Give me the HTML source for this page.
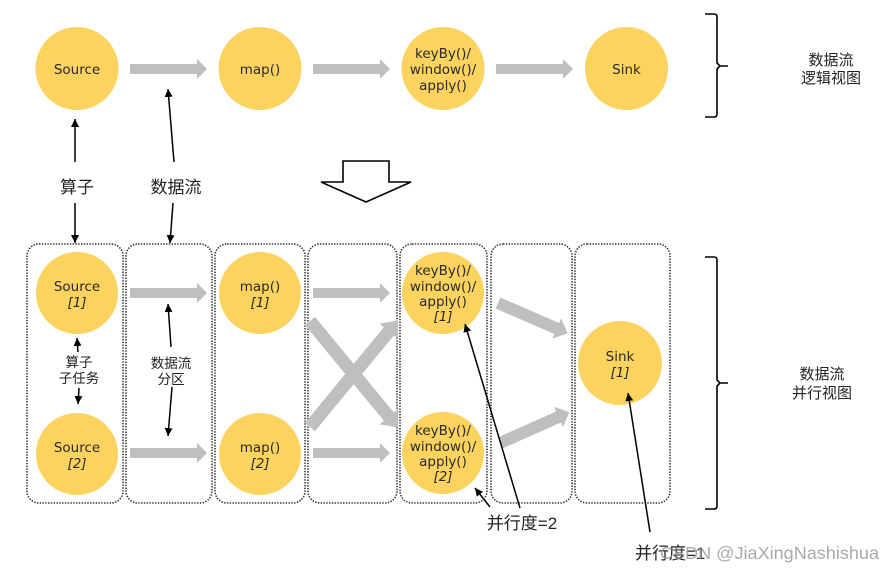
<!DOCTYPE html>
<html><head><meta charset="utf-8"><style>
html,body{margin:0;padding:0;background:#fff;}
svg{display:block;}
.n{font-family:"DejaVu Sans","Liberation Sans",sans-serif;font-size:13.5px;fill:#2a2a2a;text-anchor:middle;}
.i{font-style:italic;}
.c{font-family:"Liberation Sans","Noto Sans CJK SC",sans-serif;fill:#222;text-anchor:middle;}
</style></head><body>
<svg width="895" height="573" viewBox="0 0 895 573" xmlns="http://www.w3.org/2000/svg">
<defs>
<marker id="ah" markerUnits="userSpaceOnUse" markerWidth="10" markerHeight="10" refX="8" refY="4" orient="auto">
<path d="M0,0 L8,4 L0,8 Z" fill="#000"/>
</marker>
<g id="arr"><path d="M0,-5 H67 V-10 L77,0 L67,10 V5 H0 Z" fill="#bfbfbf"/></g>
</defs>

<!-- top row arrows -->
<use href="#arr" x="130" y="69"/>
<use href="#arr" x="313" y="69"/>
<use href="#arr" x="496" y="69"/>

<!-- top circles -->
<g fill="#fcd35f">
<circle cx="77" cy="68.5" r="41.5"/>
<circle cx="260" cy="68.5" r="41.5"/>
<circle cx="443" cy="68.5" r="41.5"/>
<circle cx="626.5" cy="68.5" r="41.5"/>
</g>
<text class="n" x="77" y="74">Source</text>
<text class="n" x="260" y="74">map()</text>
<text class="n" x="443" y="58">keyBy()/</text>
<text class="n" x="443" y="74">window()/</text>
<text class="n" x="443" y="90">apply()</text>
<text class="n" x="626.5" y="74">Sink</text>

<!-- top brace -->
<path d="M705,14 H714 Q717,14 717,17 V63 L720,66 L717,69 V114 Q717,117 714,117 H705 M720,66 H728" fill="none" stroke="#000" stroke-width="1.6"/>
<text class="c" x="831" y="65" font-size="15">数据流</text>
<text class="c" x="831" y="83" font-size="15">逻辑视图</text>

<!-- hollow down arrow -->
<polygon points="343,161 389,161 389,182 411,182 366,202 321,182 343,182" fill="#fff" stroke="#000" stroke-width="1.6"/>

<!-- labels -->
<text class="c" x="77" y="193" font-size="17">算子</text>
<text class="c" x="176" y="193" font-size="17">数据流</text>

<!-- black arrows top -->
<g stroke="#000" stroke-width="1.5" fill="none" marker-end="url(#ah)">
<line x1="75" y1="162" x2="75" y2="119"/>
<line x1="75" y1="203" x2="75" y2="243"/>
<line x1="174" y1="162" x2="168" y2="89"/>
<line x1="173" y1="203" x2="170" y2="243"/>
</g>

<!-- dotted boxes -->
<g fill="none" stroke="#333" stroke-width="1.6" stroke-dasharray="1.4 1.4">
<rect x="27" y="244" width="96" height="259" rx="12"/>
<rect x="126" y="244" width="86" height="259" rx="12"/>
<rect x="215" y="244" width="90" height="259" rx="12"/>
<rect x="308" y="244" width="89" height="259" rx="12"/>
<rect x="400" y="244" width="87" height="259" rx="12"/>
<rect x="491" y="244" width="81" height="259" rx="12"/>
<rect x="575" y="244" width="95" height="259" rx="12"/>
</g>

<!-- bottom gray arrows -->
<use href="#arr" x="130" y="293"/>
<use href="#arr" x="130" y="453"/>
<use href="#arr" x="313" y="293"/>
<use href="#arr" x="313" y="453"/>
<g fill="#bfbfbf">
<g transform="translate(310,321) rotate(50.5)"><path d="M0,-6.5 H124 V-12 L138,0 L124,12 V6.5 H0 Z"/></g>
<g transform="translate(310,427) rotate(-50.5)"><path d="M0,-6.5 H124 V-12 L138,0 L124,12 V6.5 H0 Z"/></g>
<g transform="translate(498,303) rotate(23.5)"><path d="M0,-6 H64 V-11 L76,0 L64,11 V6 H0 Z"/></g>
<g transform="translate(500,443) rotate(-24)"><path d="M0,-6 H64 V-11 L76,0 L64,11 V6 H0 Z"/></g>
</g>

<!-- bottom circles -->
<g fill="#fcd35f">
<circle cx="77" cy="293" r="41"/>
<circle cx="77" cy="454" r="41"/>
<circle cx="260" cy="293" r="41"/>
<circle cx="260" cy="454" r="41"/>
<circle cx="443" cy="293" r="41"/>
<circle cx="443" cy="453" r="41"/>
<circle cx="620" cy="363" r="42"/>
</g>
<text class="n" x="77" y="291">Source</text>
<text class="n i" x="77" y="307">[1]</text>
<text class="n" x="77" y="452">Source</text>
<text class="n i" x="77" y="468">[2]</text>
<text class="n" x="260" y="291">map()</text>
<text class="n i" x="260" y="307">[1]</text>
<text class="n" x="260" y="452">map()</text>
<text class="n i" x="260" y="468">[2]</text>
<text class="n" x="443" y="275">keyBy()/</text>
<text class="n" x="443" y="291">window()/</text>
<text class="n" x="443" y="306">apply()</text>
<text class="n i" x="443" y="321">[1]</text>
<text class="n" x="443" y="435">keyBy()/</text>
<text class="n" x="443" y="451">window()/</text>
<text class="n" x="443" y="466">apply()</text>
<text class="n i" x="443" y="481">[2]</text>
<text class="n" x="620" y="361">Sink</text>
<text class="n i" x="620" y="377">[1]</text>

<!-- column labels -->
<text class="c" x="79" y="367" font-size="13.5">算子</text>
<text class="c" x="79" y="383" font-size="13.5">子任务</text>
<text class="c" x="171" y="368" font-size="13.5">数据流</text>
<text class="c" x="171" y="384" font-size="13.5">分区</text>

<g stroke="#000" stroke-width="1.5" fill="none" marker-end="url(#ah)">
<line x1="78" y1="352" x2="77" y2="338"/>
<line x1="79" y1="388" x2="78" y2="404"/>
<line x1="171" y1="347" x2="168" y2="304"/>
<line x1="172" y1="387" x2="168" y2="436"/>
<line x1="490" y1="507" x2="475" y2="488"/>
<line x1="520" y1="508" x2="465" y2="324"/>
<line x1="650" y1="532" x2="628" y2="393"/>
</g>

<!-- bottom brace -->
<path d="M705,257 H714 Q717,257 717,260 V380 L720,383 L717,386 V506 Q717,509 714,509 H705 M720,383 H728" fill="none" stroke="#000" stroke-width="1.6"/>
<text class="c" x="822" y="379" font-size="15">数据流</text>
<text class="c" x="822" y="398" font-size="15">并行视图</text>

<!-- parallelism labels -->
<text class="c" x="522" y="529" font-size="17">并行度=2</text>
<text font-family="Liberation Sans, Noto Sans CJK SC, sans-serif" font-size="17" fill="#222" x="635" y="559">并行度=1</text>
<text font-family="Liberation Sans, sans-serif" font-size="17.5" fill="#9a9a9a" fill-opacity="0.85" x="660" y="559" textLength="219" lengthAdjust="spacingAndGlyphs">CSDN @JiaXingNashishua</text>
</svg>
</body></html>
